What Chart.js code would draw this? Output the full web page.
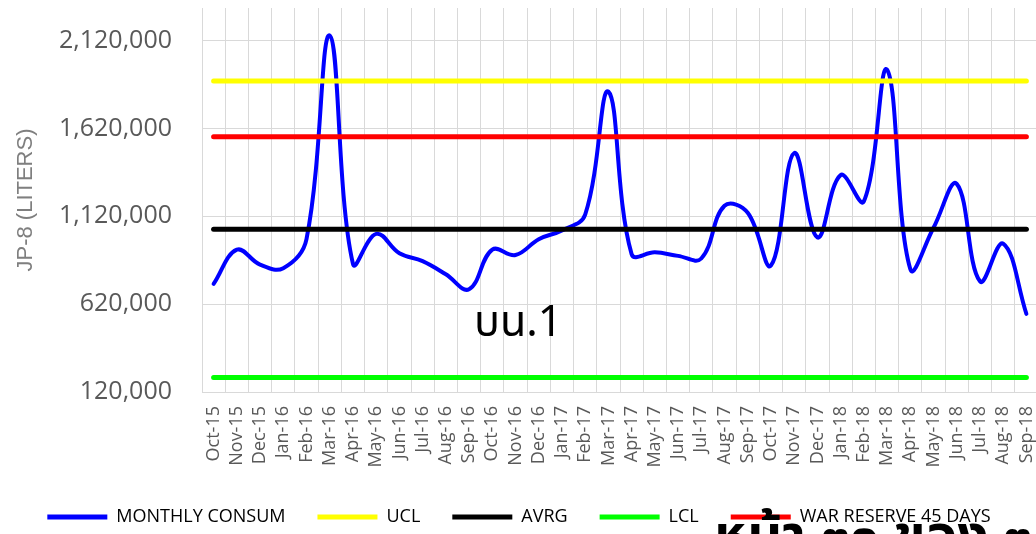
<!DOCTYPE html>
<html>
<head>
<meta charset="utf-8">
<script src="https://cdn.jsdelivr.net/npm/chart.js@4.4.1/dist/chart.umd.min.js"></script>
<style>
  html, body { margin: 0; padding: 0; background: #fff; overflow: hidden; }
  #wrap { position: relative; width: 1050px; height: 540px; }
  .note { position: absolute; white-space: nowrap; color: #000; line-height: 1; font-family: "Noto Sans Thai", "Noto Sans Thai UI", "Noto Sans", "DejaVu Sans", sans-serif; }
  #note1 { left: 474px; top: 301px; font-size: 43px; }
  #note2 { left: 714px; top: 510px; font-size: 54px; font-weight: bold; }
</style>
</head>
<body>
<div id="wrap">
  <canvas id="c"></canvas>
  <div class="note" id="note1">บน.1</div>
  <div class="note" id="note2">หน้า ๓๑ ของ ๓๓</div>
</div>
<script>
const months = ['Oct-15','Nov-15','Dec-15','Jan-16','Feb-16','Mar-16','Apr-16','May-16','Jun-16','Jul-16','Aug-16','Sep-16',
  'Oct-16','Nov-16','Dec-16','Jan-17','Feb-17','Mar-17','Apr-17','May-17','Jun-17','Jul-17','Aug-17','Sep-17',
  'Oct-17','Nov-17','Dec-17','Jan-18','Feb-18','Mar-18','Apr-18','May-18','Jun-18','Jul-18','Aug-18','Sep-18'];
const monthlyConsum = [735000, 930000, 845000, 825000, 990000, 2150000, 850000, 1020000, 910000, 865000, 790000, 705000,
  930000, 900000, 990000, 1040000, 1130000, 1830000, 905000, 915000, 895000, 880000, 1180000, 1140000,
  840000, 1480000, 1000000, 1355000, 1205000, 1955000, 820000, 1055000, 1305000, 750000, 965000, 565000];
const uclValue = 1890000;
const avrgValue = 1046000;
const lclValue = 203000;
const warReserveValue = 1573000;
const yTicks = [120000, 620000, 1120000, 1620000, 2120000];
const seriesNames = ['MONTHLY CONSUM', 'UCL', 'AVRG', 'LCL', 'WAR RESERVE 45 DAYS'];
const seriesColors = ['#0000FF', '#FFFF00', '#000000', '#00FF00', '#FF0000'];

const flat = v => months.map(() => v);

new Chart(document.getElementById('c'), {
  type: 'line',
  data: {
    labels: months,
    datasets: [
      { label: seriesNames[0], data: monthlyConsum, borderColor: seriesColors[0], borderWidth: 4, tension: 0.4, order: 1 },
      { label: seriesNames[1], data: flat(uclValue), borderColor: seriesColors[1], borderWidth: 5, order: 0 },
      { label: seriesNames[2], data: flat(avrgValue), borderColor: seriesColors[2], borderWidth: 5, order: 0 },
      { label: seriesNames[3], data: flat(lclValue), borderColor: seriesColors[3], borderWidth: 5, order: 0 },
      { label: seriesNames[4], data: flat(warReserveValue), borderColor: seriesColors[4], borderWidth: 5, order: 0 }
    ]
  },
  options: {
    responsive: true,
    maintainAspectRatio: false,
    animation: false,
    layout: { padding: { left: 0, right: 12, top: 8, bottom: 4 } },
    elements: {
      point: { radius: 0, hoverRadius: 0 },
      line: { fill: false, borderCapStyle: 'round', borderJoinStyle: 'round' }
    },
    plugins: {
      tooltip: { enabled: false },
      legend: {
        position: 'bottom',
        labels: {
          boxWidth: 60,
          boxHeight: 5,
          padding: 32,
          useBorderRadius: true,
          borderRadius: 2.5,
          color: '#737373',
          font: { family: 'Open Sans', size: 18 },
          generateLabels: () => seriesNames.map((n, i) => ({
            text: n, fillStyle: seriesColors[i], strokeStyle: seriesColors[i], lineWidth: 0, datasetIndex: i, hidden: false
          }))
        }
      }
    },
    scales: {
      x: {
        type: 'category',
        offset: true,
        grid: { offset: true, color: '#d9d9d9', lineWidth: 1, drawTicks: false },
        border: { color: '#d9d9d9' },
        ticks: {
          autoSkip: false, minRotation: 90, maxRotation: 90, padding: 14,
          color: '#595959', font: { family: 'Open Sans', size: 18 }
        },
        afterFit: s => { s.height = 84; s.paddingLeft = 0; s.paddingRight = 0; }
      },
      y: {
        min: 120000,
        max: 2306000,
        afterBuildTicks: s => { s.ticks = yTicks.map(v => ({ value: v })); },
        grid: { color: '#d9d9d9', lineWidth: 1, drawTicks: false },
        border: { display: false },
        ticks: {
          padding: 30,
          color: '#595959',
          font: { family: 'Open Sans', size: 25 },
          callback: v => v.toLocaleString('en-US')
        },
        title: {
          display: true, text: 'JP-8 (LITERS)', color: '#7f7f7f',
          font: { family: 'Liberation Sans', size: 22 }, padding: { top: 13, bottom: 0 }
        },
        afterFit: s => { s.width = 202; s.paddingTop = 0; s.paddingBottom = 0; }
      }
    }
  }
});
</script>
</body>
</html>
